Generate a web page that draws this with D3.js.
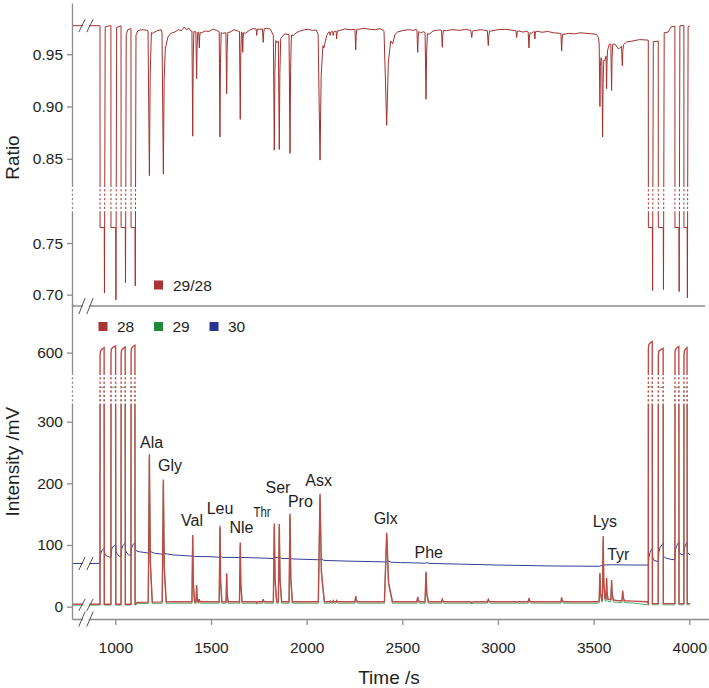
<!DOCTYPE html>
<html><head><meta charset="utf-8">
<script src="https://cdn.jsdelivr.net/npm/d3@7"></script>
<style>
body{margin:0;background:#fff;}
svg{display:block;font-family:"Liberation Sans",Arial,Helvetica,sans-serif;}
</style></head><body>
<svg id="chart" width="709" height="688"></svg>
<script>
// ---------------- DATA ----------------
const xTicks = [1000, 1500, 2000, 2500, 3000, 3500, 4000];
const ratioTicks = [0.70, 0.75, 0.85, 0.90, 0.95];
const intensityTicks = [0, 100, 200, 300, 600];

// reference gas pulses
const pulseStart = [920, 977, 1030, 1082, 3786, 3838, 3925, 3972];
const pulseEnd   = [942, 1002, 1052, 1103, 3807, 3864, 3946, 3989];
const pulseTop28 = [608, 611, 609, 612, 618, 607, 610, 608];
const pulseTop29 = [468, 470, 469, 471, 474, 466, 468, 467];
const pulseRatio = [0.765, 0.765, 0.765, 0.765, 0.765, 0.765, 0.765, 0.765];
const pulseRatioDip = [0.7015, 0.695, 0.7114, 0.7085, 0.704, 0.705, 0.703, 0.697];

// chromatographic peaks (time s, height 28 mV, height 29 mV, half width s)
const peakTime = [1178, 1251, 1404.5, 1425, 1439, 1547, 1582, 1653, 1739, 1773, 1831, 1857, 1913, 2070, 2123, 2139, 2157, 2256.5, 2418.5, 2580.5, 2624, 2709, 2863, 2949.5, 3098, 3162, 3193, 3333, 3533, 3550, 3568, 3594, 3652];
const peakH28  = [247, 206, 116, 35, 12, 131, 54, 104, 6, 12, 135, 134, 151, 183, 9, 10, 10, 17, 120, 16, 57, 12, 6, 12, 7, 14, 7, 15, 55, 114.5, 47, 43, 26];
const peakH29  = [240, 200, 112, 33, 11, 127, 52, 100, 5, 11, 130, 129, 146, 177, 8, 9, 9, 16, 116, 15, 55, 11, 5, 11, 6, 13, 6, 14, 52, 108, 44, 40, 24];
const peakW    = [6, 6, 4, 3, 3, 4, 3, 4, 3, 3, 5, 5, 5, 9, 3, 3, 3, 4, 12, 4, 5, 4, 5, 5, 4, 4, 3, 4, 4, 4, 3, 4, 4];

// ratio dips (time s, minimum ratio, half width s)
const dipTime  = [1178, 1251, 1404.5, 1425, 1439, 1547, 1582, 1653, 1666, 1739, 1773, 1831, 1857, 1913, 2070, 2123, 2139, 2157, 2256.5, 2418.5, 2580.5, 2624, 2709, 2863, 2949.5, 3098, 3162, 3193, 3333, 3533, 3547, 3568, 3594, 3650];
const dipValue = [0.8338, 0.8354, 0.8716, 0.9265, 0.956, 0.8709, 0.9122, 0.8877, 0.9518, 0.968, 0.9613, 0.8582, 0.8589, 0.8551, 0.8487, 0.968, 0.968, 0.9646, 0.9541, 0.882, 0.9518, 0.907, 0.9566, 0.966, 0.9582, 0.966, 0.956, 0.9646, 0.953, 0.900, 0.8709, 0.917, 0.9154, 0.939];
const dipW     = [7, 7, 4, 4, 3, 4, 4, 4, 3, 3, 4, 5, 5, 5, 10, 3, 3, 3, 4, 14, 4, 5, 4, 5, 5, 4, 4, 3, 4, 4, 4, 3, 4, 4];

// baselines
const base28 = [[0,4],[1105,4],[1115,7],[1300,8],[3520,8],[3560,13],[3620,10],[3700,9],[3780,8],[3786,5],[4003,5]];
const base29 = [[0,2.5],[1105,2.5],[1115,5],[1300,5.5],[3520,5.5],[3560,9],[3620,7],[3700,6],[3786,3],[4003,3]];
const baseRatio = [
[0,0.9773],[919,0.9773],[946,0.9760],[976,0.9775],[1006,0.9755],[1029,0.9772],[1056,0.9680],[1065,0.9735],[1081,0.9745],[1107,0.9680],[1118,0.9725],[1140,0.9735],[1165,0.9730],
[1195,0.9700],[1215,0.9722],[1240,0.9735],[1262,0.9560],[1275,0.9665],[1290,0.9700],[1310,0.9712],[1330,0.9735],[1345,0.9725],[1360,0.9760],[1372,0.9735],[1385,0.9748],[1395,0.9722],
[1450,0.9705],[1470,0.9722],[1490,0.9718],[1510,0.9740],[1530,0.9728],[1560,0.9700],[1600,0.9712],[1620,0.9735],[1640,0.9722],
[1680,0.9700],[1700,0.9728],[1720,0.9745],[1755,0.9738],[1790,0.9748],[1810,0.9740],[1844,0.9610],[1885,0.9695],
[1930,0.9680],[1950,0.9710],[1970,0.9725],[1990,0.9735],[2010,0.9738],[2030,0.9728],[2050,0.9732],
[2090,0.9560],[2105,0.9680],[2115,0.9712],[2147,0.9718],[2175,0.9728],[2200,0.9742],[2230,0.9735],[2275,0.9740],[2300,0.9748],[2330,0.9738],[2360,0.9735],[2385,0.9745],[2400,0.9728],
[2450,0.9600],[2462,0.9690],[2475,0.9712],[2500,0.9725],[2530,0.9735],[2560,0.9728],[2572,0.9738],[2595,0.9705],[2610,0.9715],
[2640,0.9690],[2660,0.9722],[2690,0.9732],[2730,0.9725],[2760,0.9735],[2800,0.9728],[2830,0.9738],[2850,0.9730],[2880,0.9725],[2910,0.9735],[2935,0.9728],
[2965,0.9722],[3000,0.9735],[3040,0.9738],[3070,0.9730],[3090,0.9725],[3110,0.9722],[3130,0.9712],[3150,0.9718],[3175,0.9700],[3185,0.9715],[3205,0.9720],[3230,0.9710],[3260,0.9718],[3290,0.9705],[3320,0.9700],
[3345,0.9690],[3370,0.9700],[3400,0.9695],[3430,0.9705],[3460,0.9700],[3490,0.9695],[3515,0.9690],[3525,0.9660],
[3541,0.9440],[3559,0.9440],[3582,0.9596],[3612,0.9596],[3630,0.9550],[3673,0.9618],[3700,0.9625],[3740,0.9640],[3785,0.9635],
[3810,0.9620],[3837,0.9625],[3867,0.9705],[3890,0.9712],[3905,0.9762],[3924,0.9768],[3949,0.9772],[3971,0.9775],[3992,0.9762],[4003,0.9770]
];

// mass 30 trace (explicit)
const signal30 = [
[0,70],[919,70],[920,72],[923,85],[929,91],[942,95],[944,87],[950,83],[965,81],[976,80],
[977,80],[980,92],[986,97],[1002,100],[1004,89],[1010,85],[1020,82],[1029,81],
[1030,81],[1033,93],[1039,99],[1052,103],[1054,91],[1060,87],[1070,84],[1081,83],
[1082,83],[1085,95],[1091,100],[1103,104],[1105,93],[1112,90],[1125,89],[1150,88],[1170,87],
[1173,87],[1178,94],[1186,89],[1200,87],[1245,85],[1251,90],[1260,86],[1300,84],[1400,82],[1404,84],[1410,81.5],
[1500,81],[1547,80],[1550,81.5],[1560,80],[1700,79.5],[1830,78],[1835,80],[1860,80],[1870,78],[1913,78],[1916,79],[1922,77.5],
[1965,77],[2070,76],[2074,78],[2090,75],[2200,74],[2418,72.5],[2424,74],[2445,72],[2490,71.5],[2624,70.5],[2628,71.5],[2640,70.2],
[2800,69],[3000,67.5],[3272,66],[3530,65.5],[3550,67.5],[3600,68],[3700,67.5],[3785,67.5],
[3786,67.5],[3789,80],[3795,88],[3807,95],[3809,80],[3815,75],[3837,73],
[3838,73],[3841,88],[3847,96],[3864,103],[3866,82],[3875,79],[3900,77],[3924,76],
[3925,76],[3928,92],[3934,99],[3946,105],[3948,88],[3955,85],[3971,84],
[3972,84],[3975,95],[3980,100],[3989,105],[3991,88],[4003,84]
];

// amino acid labels (anchor in data coordinates: time s, intensity mV)
const aaNames = ["Ala","Gly","Val","Leu","Nle","Thr","Ser","Pro","Asx","Glx","Phe","Lys","Tyr"];
const aaTime  = [1190, 1286, 1401, 1547, 1659, 1767, 1850, 1967, 2063, 2413, 2638, 3559, 3629];
const aaValue = [257, 220, 131, 150, 119, 146, 184, 162, 196, 134, 79, 129, 76];

const legendTop = ["29/28"];
const legendBottom = ["28", "29", "30"];

// ---------------- SCALES ----------------
const colors = {c28:"#bd4b47", c29:"#2f9a4f", c30:"#34409a", ratio:"#a3302e",
  sq28:"#a83434", sq29:"#1f8a3b", sq30:"#283593", axis:"#8c8c8c", text:"#1e1e1e"};

const svg = d3.select("#chart");
const x = d3.scaleLinear().domain([0, 900, 4100]).range([72, 96.2, 708.4]);
const yR = d3.scaleLinear().domain([0.689, 0.782, 0.823, 0.999]).range([306, 210, 187, 3]);
const yI = d3.scaleLinear().domain([-20, 327, 564, 680]).range([619, 405, 375, 303]);

// ---------------- SERIES BUILDING ----------------
function baseAt(base, t) {
  for (let i = 1; i < base.length; i++) {
    if (t <= base[i][0]) {
      const a = base[i-1], b = base[i];
      return a[1] + (b[1]-a[1]) * (t - a[0]) / (b[0] - a[0]);
    }
  }
  return base[base.length-1][1];
}
function compose(base, events) {
  const pts = base.filter(p => !events.some(e => p[0] >= e.t0 && p[0] <= e.t1)).map(p => p.slice());
  events.forEach(e => e.pts.forEach(p => pts.push(p)));
  pts.sort((a, b) => a[0] - b[0]);
  return pts;
}
function intensitySeries(base, heights, tops) {
  const ev = [];
  peakTime.forEach((t, i) => {
    const w = peakW[i], h = heights[i];
    const b0 = baseAt(base, t - w), b1 = baseAt(base, t + 2.5*w), bm = baseAt(base, t);
    ev.push({t0: t - w, t1: t + 2.5*w, pts: [[t - w, b0], [t, h], [t + 0.8*w, bm + (h - bm)*0.28], [t + 2.5*w, b1]]});
  });
  pulseStart.forEach((ts, i) => {
    const te = pulseEnd[i], top = tops[i];
    const b0 = baseAt(base, ts - 0.2), b1 = baseAt(base, te + 0.3);
    ev.push({t0: ts - 0.2, t1: te + 0.3, pts: [[ts - 0.2, b0], [ts + 0.3, top - 12], [ts + 2.5, top - 5], [(ts+te)/2, top - 2], [te - 0.6, top], [te + 0.3, b1]]});
  });
  return compose(base, ev);
}
function ratioSeries() {
  const ev = [];
  dipTime.forEach((t, i) => {
    const w = dipW[i], v = dipValue[i];
    const b0 = baseAt(baseRatio, t - w), b1 = baseAt(baseRatio, t + 1.5*w), bm = baseAt(baseRatio, t);
    ev.push({t0: t - w, t1: t + 1.5*w, pts: [[t - w, b0], [t, v], [t + 0.6*w, bm - (bm - v)*0.3], [t + 1.5*w, b1]]});
  });
  pulseStart.forEach((ts, i) => {
    const te = pulseEnd[i];
    const b0 = baseAt(baseRatio, ts - 0.2), b1 = baseAt(baseRatio, te + 5);
    ev.push({t0: ts - 0.2, t1: te + 5, pts: [[ts - 0.2, b0], [ts + 0.2, pulseRatio[i]], [te, pulseRatio[i]], [te + 1.2, pulseRatioDip[i]], [te + 5, b1]]});
  });
  return compose(baseRatio, ev);
}

const s28 = intensitySeries(base28, peakH28, pulseTop28);
const s29 = intensitySeries(base29, peakH29, pulseTop29);
const sR = ratioSeries();

const lineI = d3.line().x(d => x(d[0])).y(d => yI(d[1]));
const lineR = d3.line().x(d => x(d[0])).y(d => yR(d[1]));

// ---------------- DRAW ----------------
const gData = svg.append("g");
gData.append("path").datum(sR).attr("d", lineR).attr("fill","none").attr("stroke", colors.ratio).attr("stroke-width", 1);
gData.append("path").datum(signal30).attr("d", lineI).attr("fill","none").attr("stroke", colors.c30).attr("stroke-width", 1);
gData.append("path").datum(s29).attr("d", lineI).attr("fill","none").attr("stroke", colors.c29).attr("stroke-width", 0.8);
gData.append("path").datum(s28).attr("d", lineI).attr("fill","none").attr("stroke", colors.c28).attr("stroke-width", 1.4);

// axes
function styleAxis(g) {
  g.select(".domain").attr("stroke", colors.axis).attr("stroke-width", 1.3);
  g.selectAll(".tick line").attr("stroke", colors.axis).attr("stroke-width", 1.3);
  g.selectAll(".tick text").attr("fill", colors.text).style("font-size", "15.5px").style("font-family", '"Liberation Sans",Arial,sans-serif');
}
svg.append("g").attr("transform", "translate(72,0)")
  .call(d3.axisLeft(yR).tickValues(ratioTicks).tickFormat(d3.format(".2f")).tickSize(5).tickSizeOuter(0).tickPadding(4))
  .call(styleAxis);
svg.append("g").attr("transform", "translate(72,0)")
  .call(d3.axisLeft(yI).tickValues(intensityTicks).tickFormat(d3.format("d")).tickSize(5).tickSizeOuter(0).tickPadding(4))
  .call(styleAxis);
svg.append("g").attr("transform", "translate(0,619)")
  .call(d3.axisBottom(x).tickValues(xTicks).tickFormat(d3.format("d")).tickSize(6).tickSizeOuter(0).tickPadding(17))
  .call(styleAxis);

// separator between panels
svg.append("line").attr("x1", 72).attr("x2", 705).attr("y1", yR(0.689)).attr("y2", yR(0.689))
  .attr("stroke", colors.axis).attr("stroke-width", 1.3);

// axis-break bands (dashed)
function band(y0, y1) {
  for (let yy = y0; yy < y1; yy += 4.4) {
    svg.append("rect").attr("x", 66).attr("y", yy).attr("width", 640).attr("height", 2.2).attr("fill", "#fff");
  }
}
band(yR(0.823), yR(0.782));
band(yI(564), yI(327));

// break marks "//"
function breakMark(cy, h) {
  const g = svg.append("g");
  const xs = [82, 90], dx = 3.2;
  g.append("path").attr("d", `M${xs[0]-dx+1},${cy+h} L${xs[0]+dx+1},${cy-h} L${xs[1]+dx-1},${cy-h} L${xs[1]-dx-1},${cy+h}Z`).attr("fill", "#fff");
  xs.forEach(x0 => g.append("line").attr("x1", x0 - dx).attr("y1", cy + h).attr("x2", x0 + dx).attr("y2", cy - h)
    .attr("stroke", "#555").attr("stroke-width", 1));
}
breakMark(yR(0.9773), 6.5);
breakMark(yR(0.689), 8);
breakMark(yI(70), 6.5);
breakMark(yI(3), 6);
breakMark(619, 7.5);

// axis titles
svg.append("text").attr("transform", `translate(19,${157.5}) rotate(-90)`).attr("text-anchor","middle")
  .style("font-size","19px").attr("fill", colors.text).text("Ratio");
svg.append("text").attr("transform", `translate(19,${461.7}) rotate(-90)`).attr("text-anchor","middle")
  .style("font-size","19px").attr("fill", colors.text).text("Intensity /mV");
svg.append("text").attr("x", 389).attr("y", 684).attr("text-anchor","middle")
  .style("font-size","19px").attr("fill", colors.text).text("Time /s");

// amino acid labels
aaNames.forEach((n, i) => {
  const t = svg.append("text").attr("x", x(aaTime[i])).attr("y", yI(aaValue[i])).attr("text-anchor","middle")
    .style("font-size", n === "Thr" ? "15px" : "16px").attr("fill", colors.text).text(n);
  if (n === "Thr") t.attr("textLength", 17).attr("lengthAdjust", "spacingAndGlyphs");
});

// legends
const lt = svg.append("g");
lt.append("rect").attr("x", 154).attr("y", 280.5).attr("width", 9).attr("height", 9).attr("fill", colors.sq28);
lt.append("text").attr("x", 173).attr("y", 290.5).style("font-size","15.5px").attr("fill", colors.text).text(legendTop[0]);

const lb = svg.append("g");
const lbX = [98.5, 154, 209.5];
const lbC = [colors.sq28, colors.sq29, colors.sq30];
legendBottom.forEach((n, i) => {
  lb.append("rect").attr("x", lbX[i]).attr("y", 322).attr("width", 9).attr("height", 9).attr("fill", lbC[i]);
  lb.append("text").attr("x", lbX[i] + 18.5).attr("y", 332).style("font-size","15.5px").attr("fill", colors.text).text(n);
});
</script></body></html>
